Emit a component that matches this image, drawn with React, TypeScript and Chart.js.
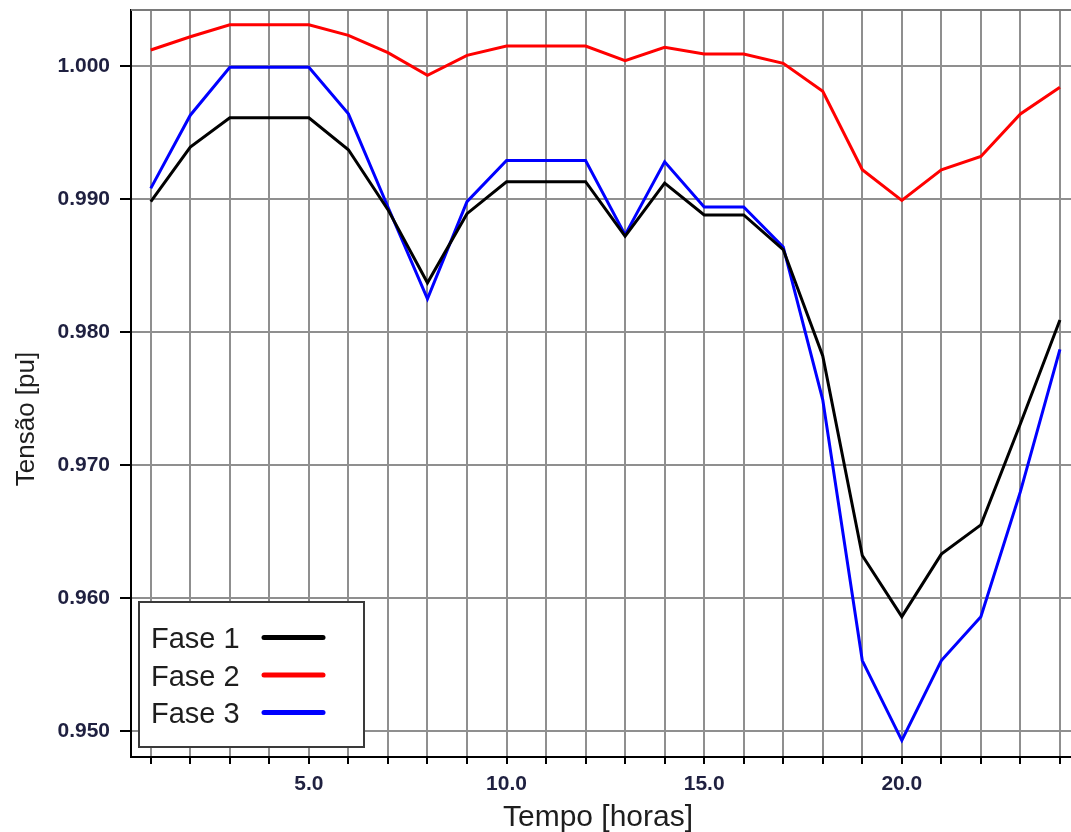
import React, { useEffect, useRef } from 'react';
import { Chart, registerables } from 'chart.js';

Chart.register(...registerables);

const hours = [1, 2, 3, 4, 5, 6, 7, 8, 9, 10, 11, 12, 13, 14, 15, 16, 17, 18, 19, 20, 21, 22, 23, 24];
const fase1 = [0.9898, 0.9939, 0.9961, 0.9961, 0.9961, 0.9937, 0.9892, 0.9837, 0.9889, 0.9913, 0.9913, 0.9913, 0.9872, 0.9912, 0.9888, 0.9888, 0.9862, 0.9782, 0.9632, 0.9586, 0.9633, 0.9655, 0.9731, 0.9809];
const fase2 = [1.0012, 1.0022, 1.0031, 1.0031, 1.0031, 1.0023, 1.0010, 0.9993, 1.0008, 1.0015, 1.0015, 1.0015, 1.0004, 1.0014, 1.0009, 1.0009, 1.0002, 0.9981, 0.9922, 0.9899, 0.9922, 0.9932, 0.9964, 0.9984];
const fase3 = [0.9908, 0.9963, 0.9999, 0.9999, 0.9999, 0.9964, 0.9894, 0.9825, 0.9898, 0.9929, 0.9929, 0.9929, 0.9873, 0.9928, 0.9894, 0.9894, 0.9864, 0.9749, 0.9553, 0.9493, 0.9553, 0.9586, 0.9680, 0.9787];
const seriesLabels = ['Fase 1', 'Fase 2', 'Fase 3'];
const seriesColors = ['#000000', '#ff0000', '#0000ff'];
const yTickValues = [0.95, 0.96, 0.97, 0.98, 0.99, 1.0];
const xLabeledTicks = [5, 10, 15, 20];
const xTitle = 'Tempo [horas]';
const yTitle = 'Tensão [pu]';

const FONT = "'Liberation Sans', Arial, sans-serif";

const decorPlugin = {
  id: 'decor',
  afterDraw(chart: any) {
    const { ctx, chartArea } = chart;
    ctx.save();
    // top frame line
    ctx.strokeStyle = '#7a7a7a';
    ctx.lineWidth = 2;
    ctx.beginPath();
    ctx.moveTo(chartArea.left, chartArea.top);
    ctx.lineTo(chartArea.right, chartArea.top);
    ctx.stroke();

    // legend box
    const bx = chartArea.left + 8;
    const by = 602;
    const bw = 225;
    const bh = 145;
    ctx.fillStyle = '#ffffff';
    ctx.fillRect(bx, by, bw, bh);
    ctx.strokeStyle = '#3a3a3a';
    ctx.lineWidth = 2;
    ctx.strokeRect(bx, by, bw, bh);
    ctx.font = `29px ${FONT}`;
    ctx.textAlign = 'left';
    ctx.textBaseline = 'alphabetic';
    chart.data.datasets.forEach((ds: any, i: number) => {
      const base = 648 + i * 37.5;
      ctx.fillStyle = '#1e1e1e';
      ctx.fillText(ds.label, bx + 12, base);
      ctx.strokeStyle = ds.borderColor;
      ctx.lineWidth = 5;
      ctx.lineCap = 'round';
      ctx.beginPath();
      ctx.moveTo(bx + 125, base - 10.5);
      ctx.lineTo(bx + 184, base - 10.5);
      ctx.stroke();
    });

    // axis titles
    ctx.fillStyle = '#1e1e1e';
    ctx.textAlign = 'center';
    ctx.textBaseline = 'alphabetic';
    ctx.font = `30px ${FONT}`;
    ctx.fillText(xTitle, 598, 826);
    ctx.font = `26px ${FONT}`;
    ctx.translate(34, 419);
    ctx.rotate(-Math.PI / 2);
    ctx.fillText(yTitle, 0, 0);
    ctx.restore();
  },
};

export default function App() {
  const canvasRef = useRef<HTMLCanvasElement | null>(null);

  useEffect(() => {
    if (!canvasRef.current) return;
    const mk = (arr: number[]) => hours.map((h, i) => ({ x: h, y: arr[i] }));
    const all = [fase1, fase2, fase3];
    const chart = new Chart(canvasRef.current, {
      type: 'line',
      data: {
        datasets: all.map((arr, i) => ({
          label: seriesLabels[i],
          data: mk(arr),
          borderColor: seriesColors[i],
          backgroundColor: seriesColors[i],
          borderWidth: 3,
          pointRadius: 0,
          tension: 0,
          fill: false,
        })),
      },
      options: {
        animation: false,
        responsive: false,
        layout: { padding: { top: 10, right: 0, left: 0, bottom: 0 } },
        plugins: {
          legend: { display: false },
          tooltip: { enabled: false },
        },
        scales: {
          x: {
            type: 'linear',
            min: 0.5,
            max: 24.28,
            afterFit: (s: any) => { s.height = 75; s.paddingLeft = 0; s.paddingRight = 0; },
            afterBuildTicks: (s: any) => { s.ticks = hours.map((v) => ({ value: v })); },
            grid: {
              color: '#8f8f8f',
              lineWidth: 2,
              drawTicks: true,
              tickLength: 7,
              tickColor: '#000000',
              tickWidth: 2,
            },
            border: { display: true, color: '#000000', width: 2 },
            ticks: {
              autoSkip: false,
              maxRotation: 0,
              padding: 8,
              color: '#1f2040',
              font: { family: FONT, size: 21, weight: 'bold' },
              callback: (v: any) => (xLabeledTicks.includes(Number(v)) ? Number(v).toFixed(1) : ''),
            },
          },
          y: {
            type: 'linear',
            min: 0.94805,
            max: 1.00421,
            afterFit: (s: any) => { s.width = 131; s.paddingTop = 0; s.paddingBottom = 0; },
            afterBuildTicks: (s: any) => { s.ticks = yTickValues.map((v) => ({ value: v })); },
            grid: {
              color: '#8f8f8f',
              lineWidth: 2,
              drawTicks: true,
              tickLength: 11,
              tickColor: '#000000',
              tickWidth: 2,
            },
            border: { display: true, color: '#000000', width: 2 },
            ticks: {
              padding: 10,
              color: '#1f2040',
              font: { family: FONT, size: 21, weight: 'bold' },
              callback: (v: any) => Number(v).toFixed(3),
            },
          },
        },
      },
      plugins: [decorPlugin],
    } as any);
    return () => chart.destroy();
  }, []);

  return (
    <div style={{ position: 'absolute', left: 0, top: 0, width: 1071, height: 832, background: '#ffffff' }}>
      <canvas ref={canvasRef} width={1071} height={832} style={{ display: 'block' }} />
    </div>
  );
}
